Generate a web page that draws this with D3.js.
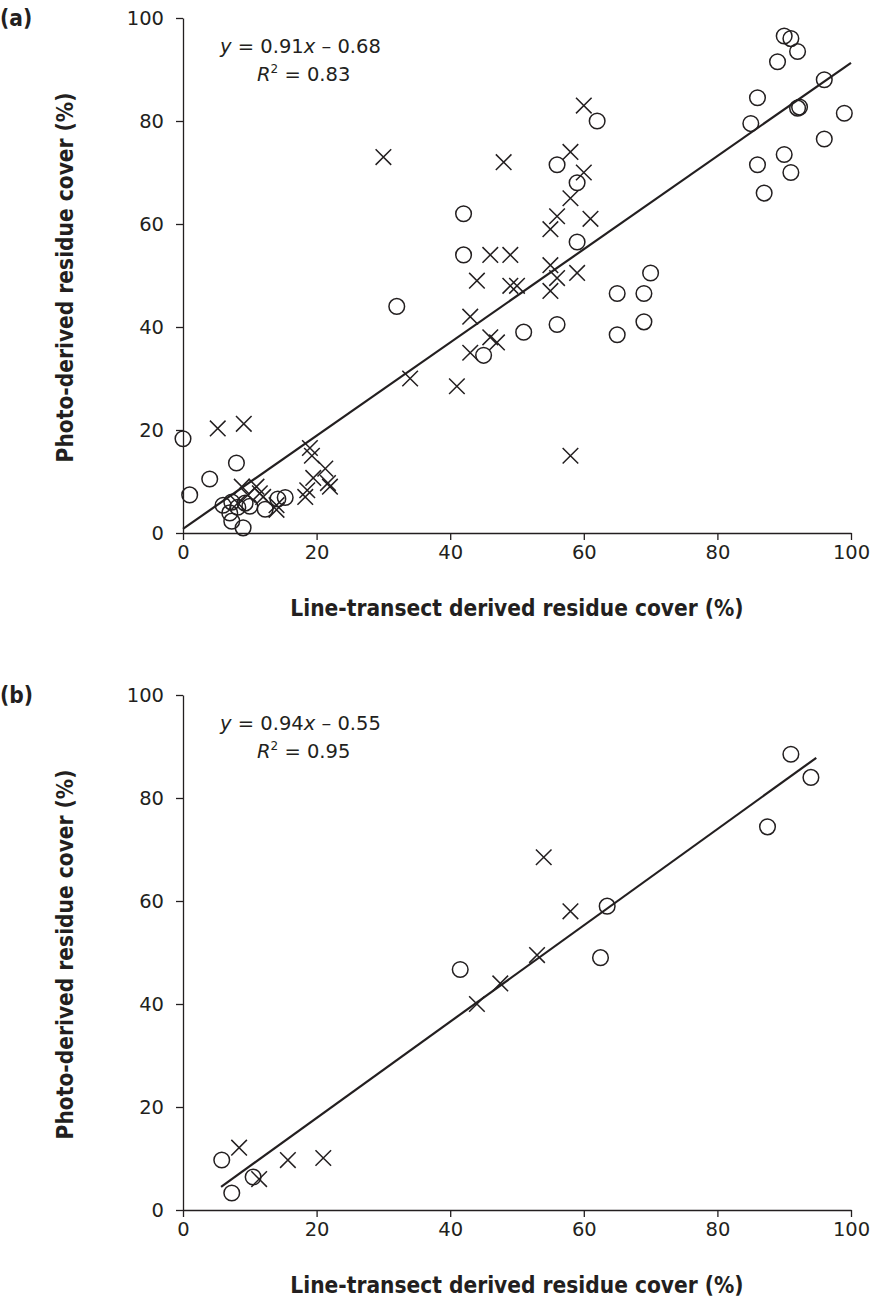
<!DOCTYPE html>
<html>
<head>
<meta charset="utf-8">
<script src="https://cdn.jsdelivr.net/npm/d3@7"></script>
<style>
  body { margin: 0; background: #fff; }
  .tick text { font-family: "DejaVu Sans", sans-serif; font-size: 19.5px; fill: #231f20; }
  .tick line, .domain { stroke: #231f20; stroke-width: 1.3; }
  .title { font-family: "DejaVu Sans Condensed", "DejaVu Sans", sans-serif; font-stretch: condensed; font-weight: bold; font-size: 22.5px; fill: #231f20; }
  .eq { font-family: "DejaVu Sans", sans-serif; font-size: 19.5px; fill: #231f20; }
</style>
</head>
<body>
<div id="chart"></div>
<script>
// panel (a) values
const circlesA_x = [0, 1, 4, 8, 9, 6, 7.3, 8.2, 9.3, 7, 7.3, 10, 12.3, 14.2, 15.3,
    32, 42, 42, 45, 51, 56, 56, 59, 59, 62, 65, 65, 69, 69, 70,
    85, 86, 86, 87, 89, 90, 90, 91, 91, 92, 92, 92.3, 96, 96, 99];
const circlesA_y = [18.3, 7.4, 10.5, 13.6, 1.0, 5.4, 6, 5, 5.8, 3.9, 2.3, 5.2, 4.6, 6.6, 6.9,
    44, 62, 54, 34.5, 39, 40.5, 71.5, 68, 56.5, 80, 46.5, 38.5, 46.5, 41, 50.5,
    79.5, 84.5, 71.5, 66, 91.5, 96.5, 73.5, 96, 70, 93.5, 82.5, 82.7, 88, 76.5, 81.5];

const crossesA_x = [5.2, 9.1, 8.8, 11, 9.7, 11.5, 14, 8.2, 12, 14,
    19, 19.3, 21.3, 19.5, 21.7, 18.3, 18.6, 22,
    30, 34, 41, 43, 43, 44, 46, 46, 47, 48, 49, 49, 50, 55, 55, 55, 56, 56, 58, 58, 58, 59, 60, 60, 61];
const crossesA_y = [20.3, 21.2, 9, 9, 7.4, 7.7, 5.4, 5.8, 7, 4.5,
    16.5, 15, 12.5, 10.7, 9.7, 7, 8.3, 9,
    73, 30, 28.5, 35, 42, 49, 54, 38, 37, 72, 54, 48, 48, 59, 52, 47, 61.5, 49.5, 74, 65, 15, 50.5, 83, 70, 61];

// panel (b) values
const circlesB_x = [5.8, 7.3, 10.5, 41.5, 62.5, 63.5, 87.5, 91, 94];
const circlesB_y = [9.7, 3.3, 6.4, 46.7, 49, 59, 74.4, 88.5, 84];
const crossesB_x = [8.4, 11.4, 15.7, 21, 44, 47.5, 53, 54, 58];
const crossesB_y = [12.1, 6.0, 9.7, 10.1, 40, 44, 49.5, 68.5, 58];

// regression lines as drawn (start and end points)
const fitA = [[0, 0.8], [100, 91.3]];
const fitB = [[5.7, 4.5], [94.8, 87.8]];

const tickValues = [0, 20, 40, 60, 80, 100];
const panelLabels = ["(a)", "(b)"];
const equations = [["0.91", "0.68", "0.83"], ["0.94", "0.55", "0.95"]];
const xTitle = "Line-transect derived residue cover (%)";
const yTitle = "Photo-derived residue cover (%)";

const ink = "#231f20";

const svg = d3.select("#chart")
    .append("svg")
    .attr("width", 877)
    .attr("height", 1300)
    .style("background-color", "#fff");

const left = 183, plotW = 668, plotH = 515;
const x = d3.scaleLinear().domain([0, 100]).range([0, plotW]);
const y = d3.scaleLinear().domain([0, 100]).range([plotH, 0]);

function drawPanel(top, idx, cx, cy, xx, xy, fit) {
    const g = svg.append("g").attr("transform", `translate(${left},${top})`);

    g.append("g")
        .attr("transform", `translate(0,${plotH})`)
        .call(d3.axisBottom(x).tickValues(tickValues).tickSize(7).tickPadding(5).tickSizeOuter(0));
    g.append("g")
        .call(d3.axisLeft(y).tickValues(tickValues).tickSize(7).tickPadding(12).tickSizeOuter(0));

    const circles = cx.map((v, i) => ({x: v, y: cy[i]}));
    const crosses = xx.map((v, i) => ({x: v, y: xy[i]}));

    g.selectAll(".circ")
        .data(circles)
        .enter()
        .append("circle")
        .attr("class", "circ")
        .attr("cx", d => x(d.x))
        .attr("cy", d => y(d.y))
        .attr("r", 7.8)
        .style("fill", "none")
        .style("stroke", ink)
        .style("stroke-width", 1.5);

    const s = 7.8;
    g.selectAll(".cross")
        .data(crosses)
        .enter()
        .append("path")
        .attr("class", "cross")
        .attr("d", d => {
            const px = x(d.x), py = y(d.y);
            return `M${px - s},${py - s}L${px + s},${py + s}M${px - s},${py + s}L${px + s},${py - s}`;
        })
        .style("fill", "none")
        .style("stroke", ink)
        .style("stroke-width", 1.5);

    g.append("line")
        .attr("x1", x(fit[0][0])).attr("y1", y(fit[0][1]))
        .attr("x2", x(fit[1][0])).attr("y2", y(fit[1][1]))
        .style("stroke", ink)
        .style("stroke-width", 2.2);

    // equation
    const eq = equations[idx];
    const t1 = g.append("text").attr("class", "eq").attr("x", 37).attr("y", 35);
    t1.append("tspan").style("font-style", "italic").text("y");
    t1.append("tspan").text(` = ${eq[0]}`);
    t1.append("tspan").style("font-style", "italic").text("x");
    t1.append("tspan").text(` \u2013 ${eq[1]}`);
    const t2 = g.append("text").attr("class", "eq").attr("x", 74).attr("y", 63);
    t2.append("tspan").style("font-style", "italic").text("R");
    t2.append("tspan").attr("dy", -8).style("font-size", "12px").text("2");
    t2.append("tspan").attr("dy", 8).text(` = ${eq[2]}`);

    svg.append("text")
        .attr("class", "title")
        .attr("x", 0)
        .attr("y", top + 8)
        .text(panelLabels[idx]);

    g.append("text")
        .attr("class", "title")
        .attr("x", x(50))
        .attr("y", plotH + 83)
        .attr("text-anchor", "middle")
        .text(xTitle);

    g.append("text")
        .attr("class", "title")
        .attr("transform", `translate(-110,${plotH / 2 + 2}) rotate(-90)`)
        .attr("text-anchor", "middle")
        .text(yTitle);
}

drawPanel(18, 0, circlesA_x, circlesA_y, crossesA_x, crossesA_y, fitA);
drawPanel(695, 1, circlesB_x, circlesB_y, crossesB_x, crossesB_y, fitB);
</script>
</body>
</html>
